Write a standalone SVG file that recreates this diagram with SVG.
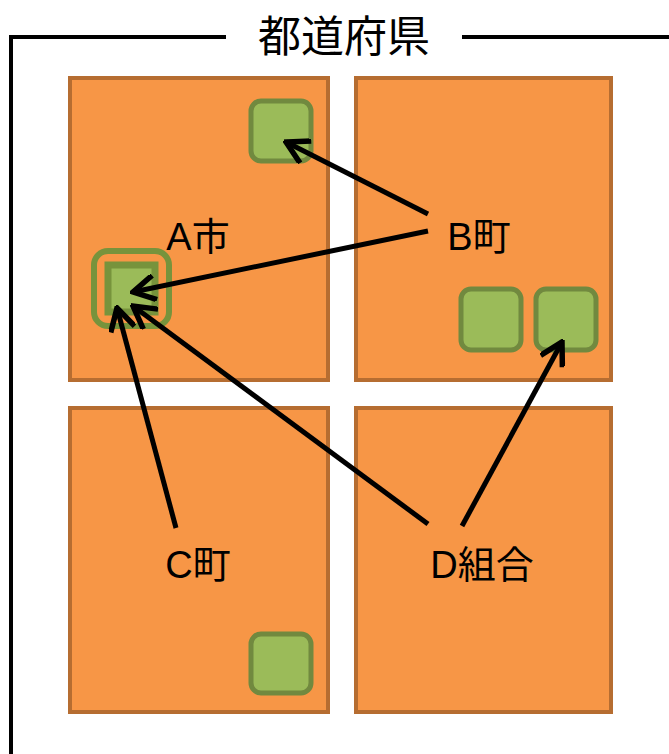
<svg xmlns="http://www.w3.org/2000/svg" width="669" height="754" viewBox="0 0 669 754">
<defs>
<style>
.area{fill:#F79646;stroke:#B66D31;stroke-width:4}
.sq{fill:#9BBB59;stroke:#71893F;stroke-width:5}
.lbl{font-family:"Liberation Sans","Noto Sans CJK JP",sans-serif;font-size:38px;fill:#000;text-anchor:middle}
.ar{stroke:#000;stroke-width:5;fill:none}
</style>
<marker id="ah" viewBox="0 0 10 10" refX="9" refY="5" markerWidth="5.5" markerHeight="5.5" orient="auto" markerUnits="strokeWidth">
<path d="M1,0.5 L9,5 L1,9.5" fill="none" stroke="#000" stroke-width="2"/>
</marker>
</defs>
<rect width="669" height="754" fill="#fff"/>
<g id="frame">
<path d="M226,37 H11 V754" fill="none" stroke="#000" stroke-width="4"/>
<path d="M462,37 H669" fill="none" stroke="#000" stroke-width="4"/>
<text x="344" y="52" font-family="'Noto Sans CJK JP',sans-serif" font-size="43" text-anchor="middle">都道府県</text>
</g>
<g id="areaA"><rect class="area" x="70" y="78" width="258" height="302"/></g>
<g id="areaB"><rect class="area" x="356" y="78" width="255" height="302"/></g>
<g id="areaC"><rect class="area" x="70" y="408" width="258" height="304"/></g>
<g id="areaD"><rect class="area" x="356" y="408" width="255" height="304"/></g>
<g id="sqA1"><rect class="sq" x="251" y="101" width="60" height="60" rx="10"/></g>
<g id="sqC1"><rect class="sq" x="251" y="634" width="60" height="59" rx="10"/></g>
<g id="sqB1"><rect class="sq" x="461" y="289" width="60" height="61" rx="10"/></g>
<g id="sqB2"><rect class="sq" x="536" y="289" width="60" height="61" rx="10"/></g>
<g id="sqAcity">
<rect x="94" y="251" width="75" height="75" rx="14" fill="none" stroke="#77933C" stroke-width="6"/>
<rect x="108" y="265" width="47" height="47" fill="#9BBB59" stroke="#77933C" stroke-width="7"/>
</g>
<g id="labels">
<text class="lbl" x="198" y="250">A市</text>
<text class="lbl" x="479" y="250">B町</text>
<text class="lbl" x="198" y="578">C町</text>
<text class="lbl" x="482" y="578">D組合</text>
</g>
<g id="connectors">
<line class="ar" x1="428" y1="214" x2="286" y2="142" marker-end="url(#ah)"/>
<line class="ar" x1="428" y1="231" x2="133" y2="292" marker-end="url(#ah)"/>
<line class="ar" x1="176" y1="528" x2="117" y2="308" marker-end="url(#ah)"/>
<line class="ar" x1="428" y1="524" x2="133" y2="306" marker-end="url(#ah)"/>
<line class="ar" x1="462" y1="526" x2="562" y2="342" marker-end="url(#ah)"/>
</g>
</svg>
